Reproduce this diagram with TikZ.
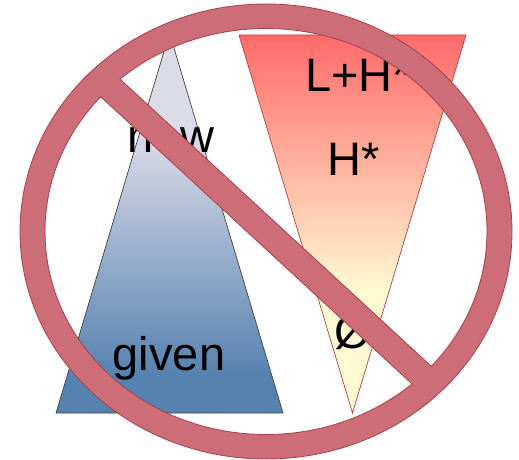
\documentclass[tikz,border=0pt]{standalone}
\usepackage{fontspec}
\setmainfont{Liberation Sans}
\definecolor{nored}{HTML}{CC6D77}
\definecolor{noedge}{HTML}{A8404C}
\definecolor{bluetop}{HTML}{DCDCE8}
\definecolor{bluebot}{HTML}{5682B0}
\definecolor{redtop}{HTML}{FF6A6A}
\definecolor{redbot}{HTML}{FFFAD2}
\definecolor{redline}{HTML}{B04040}
\pgfdeclareverticalshading{bluegrad}{100bp}{color(0bp)=(bluebot); color(30bp)=(bluebot); color(62bp)=(bluetop); color(100bp)=(bluetop)}
\pgfdeclareverticalshading{redgrad}{100bp}{color(0bp)=(redbot); color(41bp)=(redbot); color(75bp)=(redtop); color(100bp)=(redtop)}
\begin{document}
\begin{tikzpicture}[x=1pt,y=-1pt,
  lbl/.style={anchor=base,inner sep=0pt,font=\fontsize{47}{56}\selectfont},
  nofill/.style={fill=nored},
  noline/.style={draw=noedge,line width=0.8pt}]
\useasboundingbox (0,0) rectangle (519,460);
% blue triangle
\coordinate (bA) at (169.5,33);
\coordinate (bL) at (56,413);
\coordinate (bR) at (283,413);
\shade[shading=bluegrad] (bA) -- (bR) -- (bL) -- cycle;
\draw[draw=black!75,line width=0.7pt] (bA) -- (bR) -- (bL) -- cycle;
% red triangle
\coordinate (rL) at (239,35);
\coordinate (rR) at (466,35);
\coordinate (rA) at (352.5,413);
\shade[shading=redgrad] (rL) -- (rR) -- (rA) -- cycle;
\draw[draw=redline,line width=0.7pt] (rL) -- (rR) -- (rA) -- cycle;
% texts
\node[lbl] (new) at (171,152) {new};
\node[lbl] (given) at (169,370) {given};
\node[lbl] (lh) at (358,91.5) {L+H*};
\node[lbl] (hs) at (354,175) {H*};
\node[lbl] (empty) at (353,348) {Ø};
% no sign
\coordinate (C) at (266,231.5);
\coordinate (P1) at (66.1,64.8);
\coordinate (P2) at (83.7,45.6);
\coordinate (P3) at (465.9,398.2);
\coordinate (P4) at (448.3,417.4);
\fill[nofill,even odd rule] (C) ellipse [x radius=246,y radius=227.5]
   (C) ellipse [x radius=221,y radius=203];
\begin{scope}
  \clip (C) ellipse [x radius=233,y radius=215];
  \fill[nofill] (P1) -- (P2) -- (P3) -- (P4) -- cycle;
\end{scope}
\draw[noline] (C) ellipse [x radius=246,y radius=227.5];
\begin{scope}[even odd rule]
  \clip (0,0) rectangle (519,460) (P1) -- (P2) -- (P3) -- (P4) -- cycle;
  \draw[noline] (C) ellipse [x radius=221,y radius=203];
\end{scope}
\begin{scope}
  \clip (C) ellipse [x radius=221,y radius=203];
  \draw[noline] (P1) -- (P4);
  \draw[noline] (P2) -- (P3);
\end{scope}
\end{tikzpicture}
\end{document}
